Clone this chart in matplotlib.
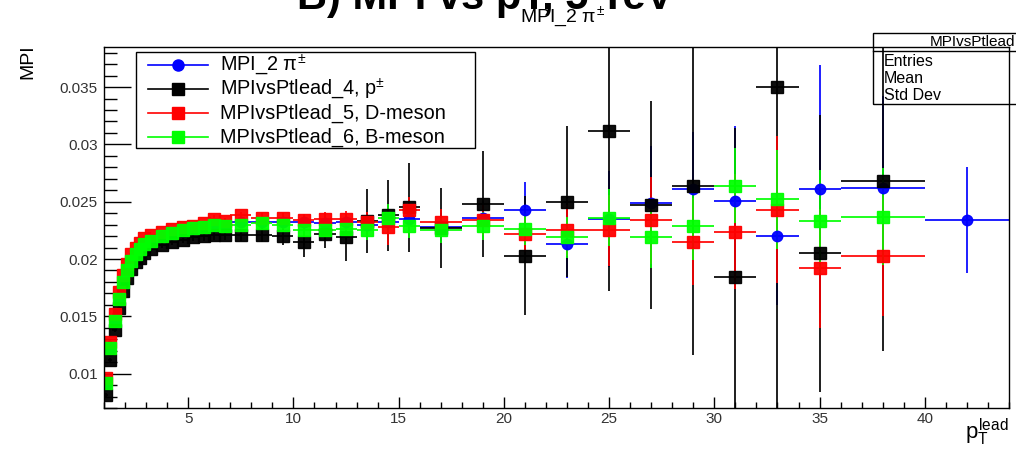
import numpy as np
import matplotlib
matplotlib.use("Agg")
import matplotlib.pyplot as plt
from matplotlib.lines import Line2D
from matplotlib.ticker import MultipleLocator, FuncFormatter

plt.rcParams['font.family'] = ['Liberation Sans', 'DejaVu Sans']
plt.rcParams['mathtext.fontset'] = 'custom'
plt.rcParams['mathtext.rm'] = 'Liberation Sans'
plt.rcParams['mathtext.it'] = 'Liberation Sans'

# bin edges in pT lead
bin_edges = [1, 1.2, 1.4, 1.6, 1.8, 2, 2.2, 2.4, 2.6, 2.8, 3,
             3.5, 4, 4.5, 5, 5.5, 6, 6.5, 7,
             8, 9, 10, 11, 12, 13, 14, 15, 16,
             18, 20, 22, 24, 26, 28, 30, 32, 34, 36, 40, 44]

nan = np.nan
# MPI_2 pi+-
mpi_pi = [0.0090, 0.0121, 0.0145, 0.0164, 0.0179, 0.0189, 0.0197, 0.0203, 0.0208, 0.0212,
          0.0215, 0.0219, 0.0222, 0.0224, 0.0226, 0.0227, 0.0229, 0.0229,
          0.0232, 0.0232, 0.0232, 0.0232, 0.0231, 0.0232, 0.0230, 0.0232, 0.0235,
          0.0228, 0.0236, 0.0243, 0.0213, 0.0235, 0.0249, 0.0261, 0.0251, 0.0220, 0.0261,
          0.0262, 0.0234]
err_pi = [0.0001] * 10 + [0.0001, 0.0001, 0.0001, 0.0002, 0.0002, 0.0002, 0.0003, 0.0003,
          0.0003, 0.0004, 0.0005, 0.0006, 0.0007, 0.0008, 0.0009, 0.0010, 0.0012,
          0.0012, 0.0015, 0.0024, 0.0030, 0.0042, 0.0050, 0.0050, 0.0065, 0.0060, 0.0108,
          0.0080, 0.0046]

# MPIvsPtlead_4, p+-
mpi_p = [0.0081, 0.0112, 0.0138, 0.0157, 0.0172, 0.0183, 0.0191, 0.0197, 0.0201, 0.0205,
         0.0209, 0.0212, 0.0215, 0.0217, 0.0219, 0.0220, 0.0221, 0.0221,
         0.0221, 0.0221, 0.0220, 0.0215, 0.0222, 0.0219, 0.0233, 0.0238, 0.0245,
         0.0227, 0.0248, 0.0203, 0.0250, 0.0312, 0.0247, 0.0264, 0.0184, 0.0350, 0.0205,
         0.0268, nan]
err_p = [0.0002] * 10 + [0.0002, 0.0002, 0.0003, 0.0003, 0.0003, 0.0004, 0.0004, 0.0004,
         0.0005, 0.0006, 0.0008, 0.0013, 0.0012, 0.0021, 0.0028, 0.0031, 0.0039,
         0.0035, 0.0046, 0.0052, 0.0066, 0.0140, 0.0091, 0.0148, 0.0130, 0.0300, 0.0121,
         0.0148, nan]

# MPIvsPtlead_5, D-meson
mpi_d = [0.0096, 0.0128, 0.0152, 0.0171, 0.0186, 0.0196, 0.0204, 0.0210, 0.0214, 0.0218,
         0.0221, 0.0224, 0.0226, 0.0228, 0.0229, 0.0231, 0.0235, 0.0233,
         0.0238, 0.0236, 0.0236, 0.0234, 0.0235, 0.0235, 0.0232, 0.0228, 0.0243,
         0.0232, 0.0234, 0.0222, 0.0225, 0.0225, 0.0234, 0.0215, 0.0224, 0.0243, 0.0192,
         0.0203, nan]
err_d = [0.0001] * 10 + [0.0001, 0.0001, 0.0001, 0.0002, 0.0002, 0.0002, 0.0003, 0.0003,
         0.0003, 0.0004, 0.0004, 0.0005, 0.0006, 0.0007, 0.0009, 0.0016, 0.0011,
         0.0012, 0.0013, 0.0016, 0.0022, 0.0031, 0.0038, 0.0038, 0.0050, 0.0064, 0.0052,
         0.0053, nan]

# MPIvsPtlead_6, B-meson
mpi_b = [0.0092, 0.0122, 0.0146, 0.0165, 0.0180, 0.0190, 0.0198, 0.0204, 0.0209, 0.0213,
         0.0216, 0.0220, 0.0223, 0.0225, 0.0227, 0.0228, 0.0230, 0.0229,
         0.0230, 0.0231, 0.0230, 0.0225, 0.0225, 0.0226, 0.0225, 0.0236, 0.0229,
         0.0225, 0.0229, 0.0226, 0.0219, 0.0236, 0.0219, 0.0229, 0.0264, 0.0252, 0.0233,
         0.0237, nan]
err_b = [0.0001] * 10 + [0.0001, 0.0001, 0.0001, 0.0002, 0.0002, 0.0002, 0.0003, 0.0003,
         0.0003, 0.0003, 0.0004, 0.0005, 0.0005, 0.0006, 0.0008, 0.0012, 0.0011,
         0.0011, 0.0012, 0.0014, 0.0018, 0.0025, 0.0027, 0.0030, 0.0033, 0.0043, 0.0045,
         0.0042, nan]

labels = [r'MPI_2 $\pi^{\pm}$', r'MPIvsPtlead_4, p$^{\pm}$',
          'MPIvsPtlead_5, D-meson', 'MPIvsPtlead_6, B-meson']
stat_names = ['Entries', 'Mean', 'Std Dev']

edges = np.array(bin_edges)
centers = 0.5 * (edges[1:] + edges[:-1])
halfw = 0.5 * (edges[1:] - edges[:-1])

W, H = 1016, 451
fig = plt.figure(figsize=(W / 100, H / 100), dpi=100)
ax = fig.add_axes([104 / W, 1 - 408 / H, 905 / W, 361 / H])

def fx(px):
    return px / W

def fy(py):
    return 1 - py / H

series = [(mpi_pi, err_pi, '#0000ff', 'o', 7.5),
          (mpi_p, err_p, '#000000', 's', 8.6),
          (mpi_d, err_d, '#ff0000', 's', 8.6),
          (mpi_b, err_b, '#00ff00', 's', 8.6)]
for vals, errs, col, mk, ms in series:
    v = np.array(vals, dtype=float)
    e = np.array(errs, dtype=float)
    ok = ~np.isnan(v)
    ax.errorbar(centers[ok], v[ok], xerr=halfw[ok], yerr=e[ok], fmt=mk, color=col,
                ms=ms, mec=col, elinewidth=1.3, capsize=0, alpha=0.95)

ax.set_xlim(1, 44)
ax.set_ylim(0.007, 0.0385)
ax.xaxis.set_major_locator(MultipleLocator(5))
ax.xaxis.set_minor_locator(MultipleLocator(1))
ax.yaxis.set_major_locator(MultipleLocator(0.005))
ax.yaxis.set_minor_locator(MultipleLocator(0.001))
ax.yaxis.set_major_formatter(FuncFormatter(lambda v, p: '%g' % round(v, 4)))
ax.xaxis.set_major_formatter(FuncFormatter(lambda v, p: '%g' % v))

ax.tick_params(axis='y', which='major', direction='in', length=19.5, width=1,
               labelsize=11, pad=4.5, labelcolor='#333333')
ax.tick_params(axis='y', which='minor', direction='in', length=9.5, width=1)
ax.tick_params(axis='x', which='major', direction='in', length=8, width=1,
               labelsize=11, pad=3, labelcolor='#333333')
ax.tick_params(axis='x', which='minor', direction='in', length=4, width=1)
for s in ax.spines.values():
    s.set_linewidth(1.0)

# legend box drawn by hand (ROOT TLegend look)
fig.patches.append(plt.Rectangle((fx(136), fy(148)), fx(475) - fx(136), fy(52) - fy(148),
                                 facecolor='white', edgecolor='black', lw=1.0,
                                 transform=fig.transFigure, zorder=5))
for i, ((vals, errs, col, mk, ms), lab) in enumerate(zip(series, labels)):
    ry = fy(65 + 24 * i)
    fig.lines.append(Line2D([fx(148), fx(208)], [ry, ry], color=col, lw=1.2,
                            transform=fig.transFigure, zorder=6))
    fig.lines.append(Line2D([fx(178)], [ry], color=col, marker=mk, ms=ms + 0.5, mec=col,
                            transform=fig.transFigure, zorder=7))
    fig.text(fx(220), ry, lab, ha='left', va='center', fontsize=14.3, zorder=7)

# big heading, mostly above the canvas
fig.text(fx(485), fy(9), 'B) MPI vs pT, 5 TeV', ha='center', va='baseline',
         fontsize=30, fontweight='bold')

fig.text(fx(563), fy(17), r'MPI_2 $\pi^{\pm}$', ha='center', va='center', fontsize=14)
fig.text(fx(28), fy(62), 'MPI', rotation=90, ha='center', va='center', fontsize=14)
fig.text(fx(987), fy(432), r'$p_{T}^{lead}$', ha='center', va='center', fontsize=16)

# stats box (partly outside the canvas)
fig.patches.append(plt.Rectangle((fx(873), fy(104)), 0.2, fy(33) - fy(104), fill=False,
                                 edgecolor='black', lw=1.0, transform=fig.transFigure))
fig.lines.append(Line2D([fx(873), 1.2], [fy(51)] * 2, color='black', lw=1.0,
                        transform=fig.transFigure))
fig.text(fx(930), fy(42), 'MPIvsPtlead', ha='left', va='center', fontsize=11)
for i, name in enumerate(stat_names):
    fig.text(fx(884), fy(61 + 17.5 * i), name, ha='left', va='center', fontsize=11.5)

fig.savefig('out.png', dpi=100)
